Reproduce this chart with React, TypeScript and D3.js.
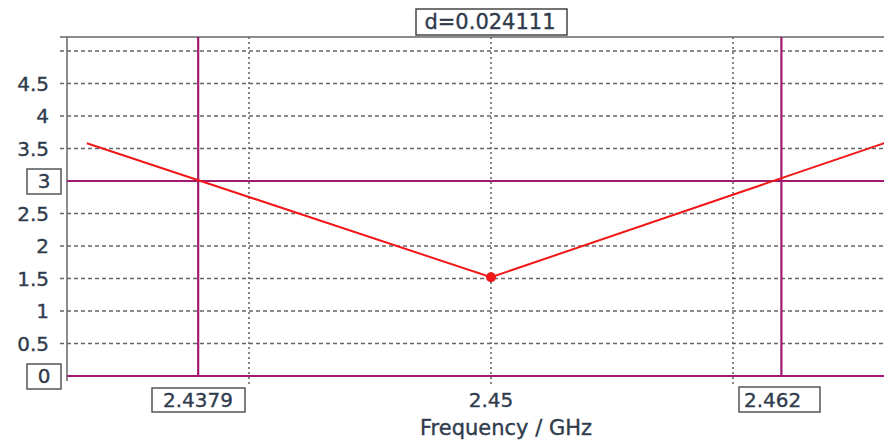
import React from "react";
import * as d3 from "d3";

const curveX = [2.4333, 2.45, 2.4667];
const curveY = [3.58, 1.52, 3.64];
const yTicks = [0.5, 1, 1.5, 2, 2.5, 3.5, 4, 4.5];
const yGrid = [0.5, 1, 1.5, 2, 2.5, 3.5, 4, 4.5, 5];
const xGrid = [2.44, 2.45, 2.46];
const xTickLabels = ["2.45"];
const markerX = [2.4379, 2.462];
const markerXLabels = ["2.4379", "2.462"];
const markerY = [0, 3];
const markerYLabels = ["0", "3"];
const minPoint = { x: 2.45, y: 1.52 };
const deltaLabel = "d=0.024111";
const xAxisTitle = "Frequency / GHz";

const W = 884;
const H = 441;
const left = 67;
const top = 37;
const bottom = 376;

export default function App() {
  const x = d3.scaleLinear().domain([2.45, 2.46]).range([491, 733]);
  const y = d3.scaleLinear().domain([0, 5]).range([bottom, bottom - 325]);
  const line = d3
    .line<number>()
    .x((_, i) => x(curveX[i]))
    .y((d) => y(d));
  const textColor = "#2f3b4c";
  const mag = "#a3196f";
  const font = "Verdana, 'DejaVu Sans', sans-serif";
  const ts = { stroke: textColor, strokeWidth: 0.35 };
  return (
    <svg
      width={W}
      height={H}
      style={{ position: "absolute", left: 0, top: 0, background: "#fff" }}
      fontFamily={font}
    >
      <defs>
        <clipPath id="plot">
          <rect x={left} y={top} width={W - left} height={bottom - top + 4} />
        </clipPath>
      </defs>
      {yGrid.map((v) => (
        <line
          key={"hg" + v}
          x1={60}
          x2={W}
          y1={y(v)}
          y2={y(v)}
          stroke="#666"
          strokeWidth={1.4}
          strokeDasharray="4,3"
        />
      ))}
      {xGrid.map((v) => (
        <line
          key={"vg" + v}
          x1={x(v)}
          x2={x(v)}
          y1={top}
          y2={bottom + 8}
          stroke="#555"
          strokeWidth={1.4}
          strokeDasharray="2,3"
        />
      ))}
      <line x1={60} x2={W} y1={top} y2={top} stroke="#666" strokeWidth={1.5} />
      <line x1={left} x2={left} y1={top} y2={bottom + 5} stroke="#666" strokeWidth={1.5} />
      {yTicks.map((v) => (
        <text
          key={"yt" + v}
          x={49}
          y={y(v)}
          dy="0.36em"
          textAnchor="end"
          fontSize={20}
          fill={textColor}
          {...ts}
        >
          {v}
        </text>
      ))}
      {xTickLabels.map((t) => (
        <text
          key={"xt" + t}
          x={x(+t)}
          y={407}
          textAnchor="middle"
          fontSize={20}
          fill={textColor}
          {...ts}
        >
          {t}
        </text>
      ))}
      <text x={506} y={435} textAnchor="middle" fontSize={21} fill={textColor} {...ts}>
        {xAxisTitle}
      </text>
      <g clipPath="url(#plot)">
        {markerY.map((v) => (
          <line
            key={"my" + v}
            x1={left}
            x2={W}
            y1={y(v)}
            y2={y(v)}
            stroke={mag}
            strokeWidth={2.2}
          />
        ))}
        {markerX.map((v) => (
          <line
            key={"mx" + v}
            x1={x(v)}
            x2={x(v)}
            y1={top}
            y2={y(0)}
            stroke={mag}
            strokeWidth={2.2}
          />
        ))}
        <path d={line(curveY) || ""} fill="none" stroke="#f01818" strokeWidth={2} />
        <circle cx={x(minPoint.x)} cy={y(minPoint.y)} r={5} fill="#f01818" />
      </g>
      {markerY.map((v, i) => (
        <g key={"myl" + v}>
          <rect
            x={27}
            y={y(v) - 12}
            width={34}
            height={25}
            fill="#fff"
            stroke="#555"
            strokeWidth={1.5}
          />
          <text
            x={44}
            y={y(v)}
            dy="0.36em"
            textAnchor="middle"
            fontSize={20}
            fill={textColor}
            {...ts}
          >
            {markerYLabels[i]}
          </text>
        </g>
      ))}
      <g>
        <rect x={152} y={388} width={93} height={24} fill="#fff" stroke="#555" strokeWidth={1.5} />
        <text x={198} y={407} textAnchor="middle" fontSize={20} fill={textColor} {...ts}>
          {markerXLabels[0]}
        </text>
        <rect x={739} y={387} width={81} height={25} fill="#fff" stroke="#555" strokeWidth={1.5} />
        <text x={744} y={407} textAnchor="start" fontSize={20} fill={textColor} {...ts}>
          {markerXLabels[1]}
        </text>
      </g>
      <rect x={416} y={9} width={151} height={26} fill="#fff" stroke="#444" strokeWidth={1.5} />
      <text x={490} y={29} textAnchor="middle" fontSize={21} fill={textColor} {...ts}>
        {deltaLabel}
      </text>
    </svg>
  );
}
